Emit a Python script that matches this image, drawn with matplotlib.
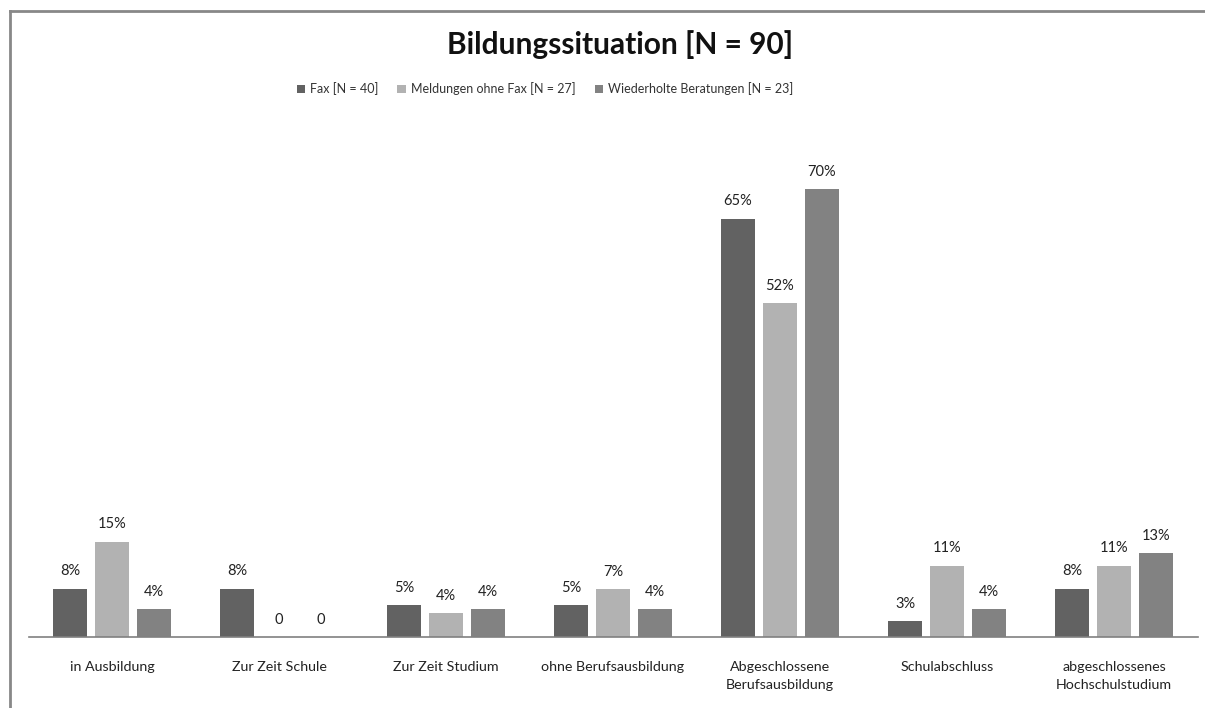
import matplotlib.pyplot as plt
import numpy as np
from matplotlib.lines import Line2D

categories = ['in Ausbildung', 'Zur Zeit Schule', 'Zur Zeit Studium',
              'ohne Berufsausbildung', 'Abgeschlossene\nBerufsausbildung',
              'Schulabschluss', 'abgeschlossenes\nHochschulstudium']
series = ['Fax [N = 40]', 'Meldungen ohne Fax [N = 27]', 'Wiederholte Beratungen [N = 23]']
fax = [7.5, 7.5, 5.0, 5.0, 65.0, 2.5, 7.5]
meldungen = [14.8, 0.0, 3.7, 7.4, 51.9, 11.1, 11.1]
wiederholte = [4.3, 0.0, 4.3, 4.3, 69.6, 4.3, 13.0]
fax_labels = ['8%', '8%', '5%', '5%', '65%', '3%', '8%']
meldungen_labels = ['15%', '0', '4%', '7%', '52%', '11%', '11%']
wiederholte_labels = ['4%', '0', '4%', '4%', '70%', '4%', '13%']

colors = ['#626262', '#b2b2b2', '#828282']
plt.rcParams['font.family'] = ['Lato', 'DejaVu Sans']

W, H = 1205, 708
fig = plt.figure(figsize=(W / 100, H / 100), dpi=100)
ax = fig.add_axes([28.5 / W, 1 - 637 / H, 1169 / W, 515 / H])

x = np.arange(len(categories))
width = 0.204
step = 0.251
data = [fax, meldungen, wiederholte]
labels = [fax_labels, meldungen_labels, wiederholte_labels]
for i in range(3):
    pos = x + (i - 1) * step
    bars = ax.bar(pos, data[i], width, color=colors[i], label=series[i])
    for p, v, lab in zip(pos, data[i], labels[i]):
        ax.text(p, v + 1.6, lab, ha='center', va='bottom', fontsize=10.5, color='#222222')

ax.set_xlim(-0.5, 6.5)
ax.set_ylim(0, 80)
ax.set_yticks([])
ax.set_xticks(x)
ax.set_xticklabels(categories, fontsize=10.3, color='#222222', linespacing=1.6)
ax.tick_params(axis='x', length=0, pad=17)
for s in ['top', 'right', 'left']:
    ax.spines[s].set_visible(False)
ax.spines['bottom'].set_color('#808080')
ax.spines['bottom'].set_linewidth(1.2)

fig.text(620 / W, 1 - 45 / H, 'Bildungssituation [N = 90]', ha='center', va='center',
         fontsize=21.5, fontweight='bold', color='#111111')
fig.legend(loc='center', bbox_to_anchor=(545 / W, 1 - 89 / H), ncol=3, frameon=False,
           fontsize=9, handlelength=0.7, handleheight=0.7, handletextpad=0.4,
           columnspacing=1.5, labelcolor='#333333')

# frame of the chart area
fig.add_artist(Line2D([9.5 / W, 1], [1 - 10.5 / H, 1 - 10.5 / H], color='#888888', lw=2))
fig.add_artist(Line2D([9.5 / W, 9.5 / W], [0, 1 - 10.5 / H], color='#888888', lw=2))

plt.savefig('out.png', dpi=100)
